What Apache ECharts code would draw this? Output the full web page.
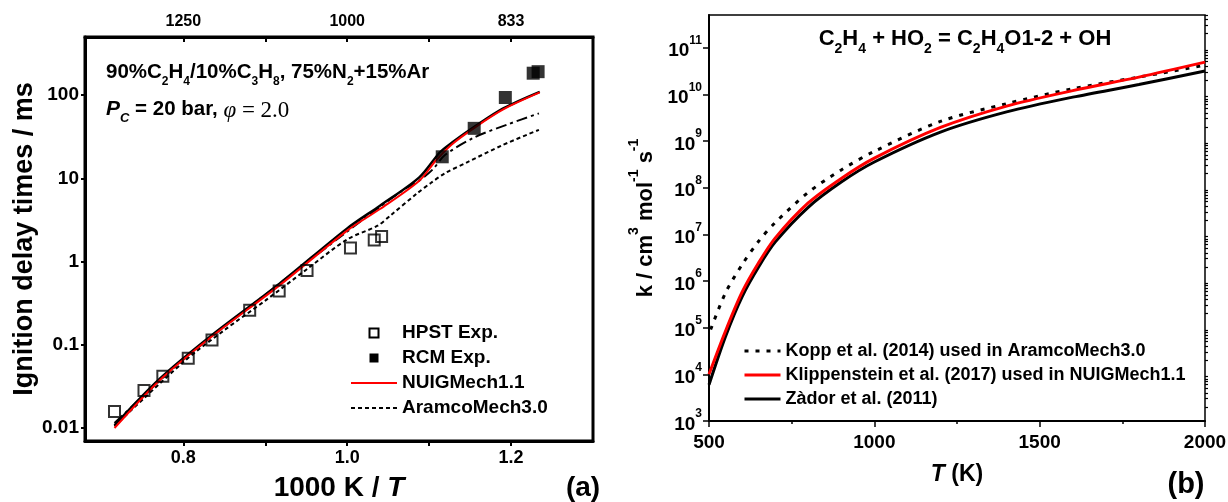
<!DOCTYPE html>
<html><head><meta charset="utf-8">
<script src="https://cdn.jsdelivr.net/npm/echarts@6/dist/echarts.min.js"></script>
<style>html,body{margin:0;padding:0;background:#fff}#c{width:1228px;height:502px}</style>
</head><body><div id="c"></div>
<script>
// ---------- Panel (a) data ----------
const hpstX = [0.716, 0.752, 0.775, 0.806, 0.835, 0.881, 0.917, 0.951, 1.004, 1.033, 1.042];
const hpstY = [0.0158, 0.0283, 0.042, 0.069, 0.114, 0.261, 0.445, 0.78, 1.46, 1.82, 2.0];
const rcmX = [1.116, 1.155, 1.193, 1.227, 1.233];
const rcmY = [18.2, 40, 94, 184, 192];
const nuigX = [0.716, 0.771, 0.834, 0.917, 1.000, 1.040, 1.088, 1.108, 1.128, 1.157, 1.191, 1.235];
const nuigY = [0.0100, 0.0373, 0.124, 0.515, 2.36, 4.29, 9.4, 16.3, 25.8, 41.7, 68, 108];
const blackX = [0.716, 0.771, 0.834, 0.917, 1.000, 1.040, 1.088, 1.113, 1.128, 1.157, 1.191, 1.235];
const blackY = [0.0108, 0.039, 0.129, 0.54, 2.51, 4.7, 10.3, 20.5, 27, 42.9, 70, 110];
const dashDotX = [0.716, 0.80, 0.90, 1.00, 1.066, 1.088, 1.105, 1.119, 1.156, 1.197, 1.234];
const dashDotY = [0.0115, 0.066, 0.40, 2.3, 7.0, 9.4, 13, 19, 31.4, 45, 60.5];
const aramcoX = [0.716, 0.80, 0.85, 0.90, 0.95, 1.00, 1.037, 1.053, 1.086, 1.102, 1.119, 1.148, 1.189, 1.234];
const aramcoY = [0.0105, 0.062, 0.15, 0.34, 0.8, 1.85, 2.7, 3.6, 6.7, 8.8, 11.5, 15.9, 25, 38.4];

const aTickX = [0.8, 0.9, 1.0, 1.1, 1.2];
const aLabelX = [0.8, 1.0, 1.2];
const aLabelXText = ['0.8', '1.0', '1.2'];
const aTopLabelText = ['1250', '1000', '833'];
const aTickY = [0.01, 0.1, 1, 10, 100];
const aLabelYText = ['0.01', '0.1', '1', '10', '100'];

// ---------- Panel (b) data ----------
const koppT = [505, 550, 600, 650, 700, 800, 900, 1000, 1200, 1400, 1600, 1800, 2000];
const koppK = [9.1e4, 5.6e5, 2.24e6, 7.1e6, 1.78e7, 7.9e7, 2.4e8, 6.0e8, 2.63e9, 6.3e9, 1.32e10, 2.34e10, 4.2e10];
const klipT = [500, 550, 600, 650, 700, 800, 900, 1000, 1200, 1400, 1600, 1800, 2000];
const klipK = [1.0e4, 8.5e4, 5.75e5, 2.45e6, 8.3e6, 4.7e7, 1.58e8, 4.3e8, 1.95e9, 5.6e9, 1.2e10, 2.34e10, 4.9e10];
const zadorT = [500, 550, 600, 650, 700, 800, 900, 1000, 1200, 1400, 1600, 1800, 2000];
const zadorK = [6.0e3, 6.5e4, 4.6e5, 2.0e6, 6.8e6, 3.8e7, 1.32e8, 3.55e8, 1.55e9, 4.2e9, 8.7e9, 1.62e10, 3.16e10];

const bTickY = [1e3, 1e4, 1e5, 1e6, 1e7, 1e8, 1e9, 1e10, 1e11];
const bLabelYExp = ['3', '4', '5', '6', '7', '8', '9', '10', '11'];

const FONT = 'Liberation Sans';
function pick(vals, labels, v) {
  for (let i = 0; i < vals.length; i++) {
    if (Math.abs(vals[i] - v) <= 1e-6 * Math.max(1, Math.abs(vals[i]))) return labels[i];
  }
  return '';
}
const pairs = (xs, ys) => xs.map((x, i) => [x, ys[i]]);
const bMinor = [];
for (let e = 3; e <= 11; e++) for (let m = 2; m <= 9; m++) { const v = m * Math.pow(10, e); if (v < Math.pow(10, 11.7)) bMinor.push(v); }

const SQ = 'path://M0,0H10V10H0Z';
const chart = echarts.init(document.getElementById('c'), null, {renderer: 'canvas'});
const lblStyle = {color: '#000', fontFamily: FONT, fontWeight: 'bold'};

chart.setOption({
  animation: false,
  backgroundColor: '#fff',
  grid: [
    {left: 85, top: 37, width: 508, height: 404, show: true, borderColor: '#000', borderWidth: 3, backgroundColor: 'transparent',
     containLabel: false, outerBoundsMode: 'none'},
    {left: 709, top: 15, width: 496, height: 406, show: true, borderColor: '#000', borderWidth: 1.5, backgroundColor: 'transparent',
     containLabel: false, outerBoundsMode: 'none'}
  ],
  xAxis: [
    {gridIndex: 0, type: 'value', position: 'bottom', min: 0.68, max: 1.30,
     axisLine: {show: true, onZero: false, lineStyle: {color: '#000', width: 3}},
     axisTick: {show: true, inside: false, length: 5, lineStyle: {color: '#000', width: 2}, customValues: aTickX},
     axisLabel: Object.assign({customValues: aLabelX, fontSize: 18, margin: 8, formatter: v => pick(aLabelX, aLabelXText, v)}, lblStyle),
     splitLine: {show: false},
     name: '{n|1000 K / }{i|T}', nameLocation: 'middle', nameGap: 33,
     nameTextStyle: {rich: {n: Object.assign({fontSize: 28}, lblStyle), i: Object.assign({fontSize: 28, fontStyle: 'italic'}, lblStyle)}}},
    {gridIndex: 0, type: 'value', position: 'top', min: 0.68, max: 1.30,
     axisLine: {show: true, onZero: false, lineStyle: {color: '#000', width: 3}},
     axisTick: {show: true, inside: true, length: 5, lineStyle: {color: '#000', width: 2}, customValues: aTickX},
     axisLabel: Object.assign({customValues: aLabelX, fontSize: 16, margin: 7, formatter: v => pick(aLabelX, aTopLabelText, v)}, lblStyle),
     splitLine: {show: false}},
    {gridIndex: 1, type: 'value', position: 'bottom', min: 500, max: 2000, interval: 500,
     axisLine: {show: true, onZero: false, lineStyle: {color: '#000', width: 2}},
     axisTick: {show: true, inside: false, length: 6, lineStyle: {color: '#000', width: 1.5}},
     minorTick: {show: true, splitNumber: 2, length: 3, lineStyle: {color: '#000', width: 1.5}},
     axisLabel: Object.assign({fontSize: 19, margin: 12, formatter: v => String(v)}, lblStyle),
     splitLine: {show: false}, minorSplitLine: {show: false},
     name: '{i|T}{n| (K)}', nameLocation: 'middle', nameGap: 42,
     nameTextStyle: {rich: {n: Object.assign({fontSize: 23}, lblStyle), i: Object.assign({fontSize: 23, fontStyle: 'italic'}, lblStyle)}}}
  ],
  yAxis: [
    {gridIndex: 0, type: 'log', logBase: 10, min: Math.pow(10, -2.156), max: Math.pow(10, 2.70),
     axisLine: {show: true, onZero: false, lineStyle: {color: '#000', width: 3}},
     axisTick: {show: true, inside: false, length: 4, lineStyle: {color: '#000', width: 2}, customValues: aTickY},
     axisLabel: Object.assign({customValues: aTickY, fontSize: 19, margin: 6, formatter: v => pick(aTickY, aLabelYText, v)}, lblStyle),
     splitLine: {show: false},
     name: 'Ignition delay times / ms', nameLocation: 'middle', nameGap: 43, nameRotate: 90,
     nameTextStyle: Object.assign({fontSize: 27}, lblStyle)},
    {gridIndex: 1, type: 'log', logBase: 10, min: 1e3, max: Math.pow(10, 11.7),
     axisLine: {show: true, onZero: false, lineStyle: {color: '#000', width: 2}},
     axisTick: {show: true, inside: false, length: 6, lineStyle: {color: '#000', width: 1.5}, customValues: bTickY},
     axisLabel: Object.assign({customValues: bTickY, fontSize: 19, margin: 7,
       formatter: v => '{m|10}{s|' + pick(bTickY, bLabelYExp, v) + '}',
       rich: {m: Object.assign({fontSize: 19, lineHeight: 26, verticalAlign: 'bottom'}, lblStyle),
              s: Object.assign({fontSize: 12, lineHeight: 14, verticalAlign: 'top'}, lblStyle)}}, lblStyle),
     splitLine: {show: false},
     name: '{n|k / cm}{s|3}{n| mol}{s|-1}{n| s}{s|-1}', nameLocation: 'middle', nameGap: 52, nameRotate: 90,
     nameTextStyle: {rich: {n: Object.assign({fontSize: 22, lineHeight: 30, verticalAlign: 'bottom'}, lblStyle),
                            s: Object.assign({fontSize: 14, lineHeight: 16, verticalAlign: 'top'}, lblStyle)}}},
    {gridIndex: 1, type: 'log', logBase: 10, min: 1e3, max: Math.pow(10, 11.7),
     axisLine: {show: false},
     axisTick: {show: true, inside: false, length: 3, lineStyle: {color: '#000', width: 1.2}, customValues: bMinor},
     axisLabel: {show: false}, splitLine: {show: false}}
  ],
  legend: [
    {left: 345, top: 318, orient: 'vertical', itemWidth: 46, itemHeight: 9, itemGap: 5,
     itemStyle: {opacity: 0}, lineStyle: {width: 2},
     data: [
       {name: 'HPST Exp.', icon: SQ, itemStyle: {opacity: 1, color: '#fff', borderColor: '#000', borderWidth: 2}},
       {name: 'RCM Exp.', icon: SQ, itemStyle: {opacity: 1, color: '#000', borderWidth: 0}},
       'NUIGMech1.1', 'AramcoMech3.0'],
     textStyle: Object.assign({fontSize: 19, lineHeight: 20}, lblStyle)},
    {left: 738, top: 336, orient: 'vertical', itemWidth: 36, itemHeight: 10, itemGap: 4,
     itemStyle: {opacity: 0}, lineStyle: {width: 3},
     data: ['Kopp et al. (2014) used in AramcoMech3.0', 'Klippenstein et al. (2017) used in NUIGMech1.1', 'Zàdor et al. (2011)'],
     textStyle: Object.assign({fontSize: 18, lineHeight: 20}, lblStyle)}
  ],
  series: [
    {name: 'AramcoMech3.0', type: 'line', xAxisIndex: 0, yAxisIndex: 0, data: pairs(aramcoX, aramcoY),
     showSymbol: false, symbol: 'none', smooth: 0.3, lineStyle: {color: '#000', width: 2, type: [4, 3]}, itemStyle: {color: '#000'}, z: 2},
    {name: 'Other mechanism (dash-dot)', type: 'line', xAxisIndex: 0, yAxisIndex: 0, data: pairs(dashDotX, dashDotY),
     showSymbol: false, symbol: 'none', smooth: 0.3, lineStyle: {color: '#000', width: 2, type: [11, 4, 3, 4]}, itemStyle: {color: '#000'}, z: 2},
    {name: 'Other mechanism (solid)', type: 'line', xAxisIndex: 0, yAxisIndex: 0, data: pairs(blackX, blackY),
     showSymbol: false, symbol: 'none', smooth: 0.3, lineStyle: {color: '#000', width: 2.5}, itemStyle: {color: '#000'}, z: 3},
    {name: 'NUIGMech1.1', type: 'line', xAxisIndex: 0, yAxisIndex: 0, data: pairs(nuigX, nuigY),
     showSymbol: false, symbol: 'none', smooth: 0.3, lineStyle: {color: '#ff0000', width: 2}, itemStyle: {color: '#ff0000'}, z: 4},
    {name: 'HPST Exp.', type: 'scatter', xAxisIndex: 0, yAxisIndex: 0, data: pairs(hpstX, hpstY),
     symbol: 'rect', symbolSize: 11, itemStyle: {color: 'rgba(255,255,255,0)', borderColor: '#000', borderWidth: 2}, z: 5},
    {name: 'RCM Exp.', type: 'scatter', xAxisIndex: 0, yAxisIndex: 0, data: pairs(rcmX, rcmY),
     symbol: 'rect', symbolSize: 13, itemStyle: {color: '#000'}, z: 5},

    {name: 'Kopp et al. (2014) used in AramcoMech3.0', type: 'line', xAxisIndex: 2, yAxisIndex: 1, data: pairs(koppT, koppK),
     showSymbol: false, symbol: 'none', smooth: 0.3, lineStyle: {color: '#000', width: 3, type: [4, 7]}, itemStyle: {color: '#000'}},
    {name: 'Zàdor et al. (2011)', type: 'line', xAxisIndex: 2, yAxisIndex: 1, data: pairs(zadorT, zadorK),
     showSymbol: false, symbol: 'none', smooth: 0.3, lineStyle: {color: '#000', width: 3}, itemStyle: {color: '#000'}},
    {name: 'Klippenstein et al. (2017) used in NUIGMech1.1', type: 'line', xAxisIndex: 2, yAxisIndex: 1, data: pairs(klipT, klipK),
     showSymbol: false, symbol: 'none', smooth: 0.3, lineStyle: {color: '#ff0000', width: 3}, itemStyle: {color: '#ff0000'}}
  ],
  graphic: [
    {type: 'text', x: 106, y: 75, z: 10, style: {
      text: '{b|90%C}{sub|2}{b|H}{sub|4}{b|/10%C}{sub|3}{b|H}{sub|8}{b|, 75%N}{sub|2}{b|+15%Ar}',
      verticalAlign: 'middle', align: 'left',
      rich: {b: {fontSize: 20.5, fontFamily: FONT, fontWeight: 'bold', fill: '#000', lineHeight: 26, verticalAlign: 'top'},
             sub: {fontSize: 12, fontFamily: FONT, fontWeight: 'bold', fill: '#000', lineHeight: 12, verticalAlign: 'bottom'}}}},
    {type: 'text', x: 106, y: 112, z: 10, style: {
      text: '{bi|P}{si|C}{b| = 20 bar, }{phi|φ}{serif| = 2.0}',
      verticalAlign: 'middle', align: 'left',
      rich: {b: {fontSize: 20.5, fontFamily: FONT, fontWeight: 'bold', fill: '#000', lineHeight: 26, verticalAlign: 'top'},
             bi: {fontSize: 21, fontFamily: FONT, fontWeight: 'bold', fontStyle: 'italic', fill: '#000', lineHeight: 26, verticalAlign: 'top'},
             si: {fontSize: 13, fontFamily: FONT, fontWeight: 'bold', fontStyle: 'italic', fill: '#000', lineHeight: 13, verticalAlign: 'bottom'},
             phi: {fontSize: 23, fontFamily: 'Liberation Serif', fontStyle: 'italic', fill: '#000', lineHeight: 26, verticalAlign: 'top'},
             serif: {fontSize: 23, fontFamily: 'Liberation Serif', fill: '#000', lineHeight: 26, verticalAlign: 'top'}}}},
    {type: 'text', x: 583, y: 488, z: 10, style: {text: '(a)', fontSize: 28, fontFamily: FONT, fontWeight: 'bold', fill: '#000', align: 'center', verticalAlign: 'middle'}},
    {type: 'text', x: 965, y: 42, z: 10, style: {
      text: '{b|C}{sub|2}{b|H}{sub|4}{b| + HO}{sub|2}{b| = C}{sub|2}{b|H}{sub|4}{b|O1-2 + OH}',
      verticalAlign: 'middle', align: 'center',
      rich: {b: {fontSize: 22, fontFamily: FONT, fontWeight: 'bold', fill: '#000', lineHeight: 28, verticalAlign: 'top'},
             sub: {fontSize: 14, fontFamily: FONT, fontWeight: 'bold', fill: '#000', lineHeight: 14, verticalAlign: 'bottom'}}}},
    {type: 'text', x: 1186, y: 485, z: 10, style: {text: '(b)', fontSize: 29, fontFamily: FONT, fontWeight: 'bold', fill: '#000', align: 'center', verticalAlign: 'middle'}}
  ]
});
</script></body></html>
